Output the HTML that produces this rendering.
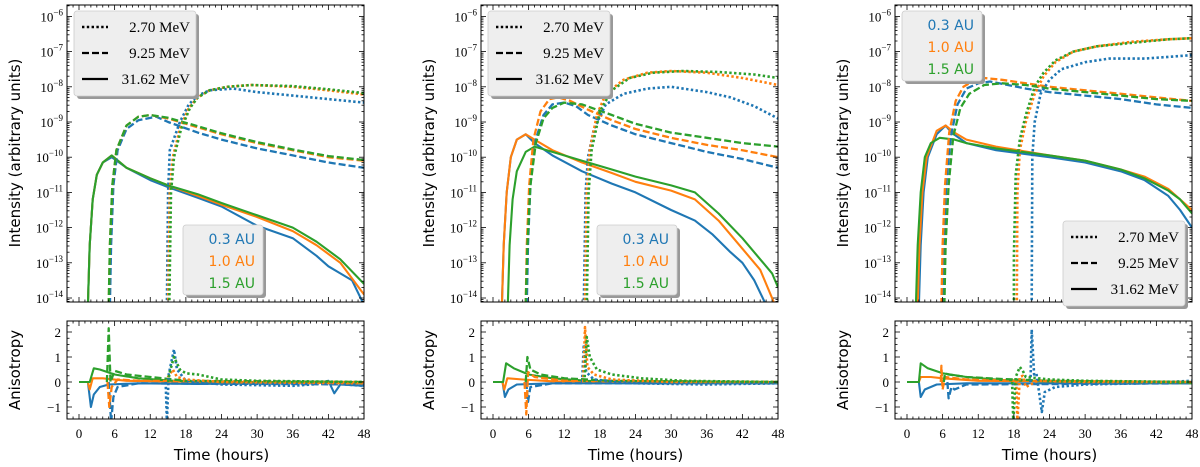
<!DOCTYPE html>
<html><head><meta charset="utf-8"><style>
body{margin:0;background:#fff;}
svg{display:block;}
.tk{font-family:"Liberation Serif",serif;font-size:13px;fill:#000;}
.lab{font-family:"DejaVu Sans","Liberation Sans",sans-serif;font-size:15px;fill:#000;}
</style></head><body>
<svg id="fig" width="1200" height="467" viewBox="0 0 1200 467" xmlns="http://www.w3.org/2000/svg"></svg>
<script>
// ---- data: [hour, log10 intensity] ----
const P1_SOLID_B=[[1.5,-14.2],[1.8,-12.5],[2.3,-11.2],[3,-10.5],[4,-10.15],[5.5,-10.0],[8,-10.3],[12,-10.65],[15,-10.85],[20,-11.15],[24,-11.4],[30,-11.95],[36,-12.3],[40,-12.8],[42,-13.1],[44,-13.3],[46,-13.5],[48,-14.2]];
const P1_SOLID_O=[[1.5,-14.2],[1.8,-12.5],[2.3,-11.2],[3,-10.5],[4,-10.15],[5.5,-9.95],[8,-10.3],[12,-10.6],[15,-10.8],[20,-11.1],[24,-11.35],[30,-11.7],[36,-12.1],[40,-12.5],[44,-13.0],[48,-13.9]];
const P1_SOLID_G=[[1.5,-14.2],[1.8,-12.5],[2.3,-11.2],[3,-10.5],[4,-10.15],[5.5,-9.95],[8,-10.3],[12,-10.6],[15,-10.8],[20,-11.05],[24,-11.3],[30,-11.65],[36,-12.0],[40,-12.4],[44,-12.9],[48,-13.6]];
const P1_DASH_B=[[5.2,-14.2],[5.4,-12.5],[5.8,-10.8],[6.5,-9.8],[8,-9.2],[10,-8.95],[13,-8.85],[15,-9.0],[20,-9.3],[24,-9.5],[30,-9.75],[36,-9.95],[42,-10.15],[48,-10.3]];
const P1_DASH_O=[[5,-14.2],[5.2,-12.5],[5.6,-10.8],[6.3,-9.8],[8,-9.1],[10,-8.85],[12,-8.8],[15,-8.9],[20,-9.15],[24,-9.35],[30,-9.6],[36,-9.8],[42,-10.0],[48,-10.1]];
const P1_DASH_G=[[5,-14.2],[5.2,-12.5],[5.6,-10.8],[6.3,-9.8],[8,-9.1],[10,-8.85],[12,-8.8],[15,-8.88],[20,-9.12],[24,-9.32],[30,-9.57],[36,-9.78],[42,-9.97],[48,-10.08]];
const P1_DOT_B=[[14.8,-14.2],[15,-11],[15.3,-9.8],[17,-9.0],[18.5,-8.5],[20,-8.25],[22,-8.1],[26,-8.05],[30,-8.15],[36,-8.25],[42,-8.35],[48,-8.45]];
const P1_DOT_O=[[15,-14.2],[15.3,-11],[15.8,-10],[17,-9.2],[18.5,-8.6],[20,-8.3],[22,-8.1],[25,-8.0],[29,-7.95],[36,-8.0],[42,-8.1],[48,-8.22]];
const P1_DOT_G=[[15.2,-14.2],[15.5,-11],[16,-10],[17.2,-9.2],[18.7,-8.6],[20,-8.3],[22,-8.1],[25,-8.0],[29,-7.95],[36,-7.98],[42,-8.07],[48,-8.18]];
const P2_SOLID_B=[[1.5,-14.2],[1.8,-12.5],[2.3,-11],[3,-10],[4,-9.5],[5.5,-9.35],[7,-9.6],[10,-9.95],[15,-10.4],[20,-10.75],[24,-11.0],[30,-11.5],[34,-11.8],[37,-12.2],[40,-12.7],[42,-13.0],[44,-13.5],[46,-14.2]];
const P2_SOLID_O=[[1.5,-14.2],[1.8,-12.5],[2.3,-11],[3,-10],[4,-9.5],[5.5,-9.35],[7,-9.5],[10,-9.8],[15,-10.15],[20,-10.45],[24,-10.7],[30,-10.95],[34,-11.2],[38,-11.8],[42,-12.6],[45,-13.2],[47.5,-14.2]];
const P2_SOLID_G=[[2.5,-14.2],[2.8,-12.5],[3.3,-11.2],[4,-10.4],[5.5,-9.85],[7,-9.7],[10,-9.85],[15,-10.1],[20,-10.35],[24,-10.55],[30,-10.8],[34,-11.0],[38,-11.6],[42,-12.3],[45,-12.9],[47,-13.3],[48,-13.7]];
const P2_DASH_B=[[5.7,-14.2],[5.9,-12.5],[6.3,-10.8],[7,-9.6],[8.5,-8.8],[10,-8.5],[12,-8.45],[14,-8.55],[16,-8.8],[20,-9.1],[24,-9.35],[30,-9.6],[36,-9.85],[42,-10.05],[48,-10.3]];
const P2_DASH_O=[[5.5,-14.2],[5.7,-12.5],[6.1,-10.8],[6.8,-9.5],[8,-8.7],[9.5,-8.35],[11,-8.3],[13,-8.4],[16,-8.65],[20,-8.95],[24,-9.2],[30,-9.45],[36,-9.65],[42,-9.8],[48,-10.0]];
const P2_DASH_G=[[5.5,-14.2],[5.8,-12.5],[6.3,-10.8],[7.2,-9.6],[8.5,-8.9],[10,-8.6],[12,-8.45],[15,-8.5],[20,-8.8],[24,-9.05],[30,-9.3],[36,-9.45],[42,-9.6],[48,-9.7]];
const P2_DOT_B=[[15.3,-14.2],[15.6,-11],[16,-10],[17,-9.2],[19,-8.5],[22,-8.2],[26,-8.05],[30,-8.0],[36,-8.15],[40,-8.3],[44,-8.55],[48,-8.9]];
const P2_DOT_O=[[15.5,-14.2],[15.8,-11],[16.3,-9.8],[17.5,-8.8],[19,-8.2],[22,-7.8],[26,-7.6],[30,-7.55],[36,-7.6],[42,-7.75],[48,-7.95]];
const P2_DOT_G=[[15.8,-14.2],[16.1,-11],[16.6,-9.8],[18,-8.7],[20,-8.1],[23,-7.75],[27,-7.6],[32,-7.55],[38,-7.58],[44,-7.65],[48,-7.75]];
const P3_SOLID_B=[[2,-14.2],[2.3,-12.5],[2.8,-11],[3.5,-10],[5,-9.35],[6.5,-9.1],[7.5,-9.3],[10,-9.6],[15,-9.8],[24,-10.0],[30,-10.15],[36,-10.4],[40,-10.65],[44,-11.1],[46,-11.5],[48,-12.0]];
const P3_SOLID_O=[[1.8,-14.2],[2.1,-12.5],[2.6,-11],[3.3,-10],[5,-9.25],[6.5,-9.1],[8,-9.3],[10,-9.5],[15,-9.7],[24,-9.95],[30,-10.1],[36,-10.35],[40,-10.55],[44,-10.9],[46,-11.2],[48,-11.5]];
const P3_SOLID_G=[[1.5,-14.2],[1.8,-12.5],[2.3,-11],[3,-10],[4,-9.6],[5.5,-9.45],[8,-9.5],[10,-9.6],[15,-9.75],[24,-9.95],[30,-10.1],[36,-10.35],[40,-10.6],[44,-10.95],[46,-11.2],[48,-11.6]];
const P3_DASH_B=[[6,-14.2],[6.2,-12.5],[6.6,-10.8],[7.4,-9.4],[8.5,-8.5],[10,-8.05],[12,-7.9],[14,-7.85],[17,-7.95],[20,-8.05],[24,-8.15],[30,-8.25],[36,-8.35],[42,-8.5],[48,-8.6]];
const P3_DASH_O=[[5.8,-14.2],[6,-12.5],[6.4,-10.8],[7.1,-9.3],[8.2,-8.4],[9.5,-8.0],[11,-7.85],[13,-7.75],[16,-7.8],[20,-7.9],[24,-8.0],[30,-8.1],[36,-8.2],[42,-8.3],[48,-8.4]];
const P3_DASH_G=[[6.3,-14.2],[6.5,-12.5],[7,-10.8],[7.8,-9.4],[9,-8.6],[10.5,-8.2],[13,-7.95],[16,-7.9],[20,-7.95],[24,-8.05],[30,-8.15],[36,-8.25],[42,-8.35],[48,-8.4]];
const P3_DOT_B=[[21,-14.2],[21.1,-10],[21.5,-9.0],[22.5,-8.2],[24,-7.8],[26,-7.5],[30,-7.3],[34,-7.2],[40,-7.2],[44,-7.15],[48,-7.1]];
const P3_DOT_O=[[18.5,-14.2],[18.6,-11],[19,-9.8],[20,-9.0],[21.5,-8.2],[23,-7.7],[25,-7.3],[28,-7.0],[32,-6.85],[38,-6.72],[44,-6.65],[48,-6.62]];
const P3_DOT_G=[[18,-14.2],[18,-12.8],[18.3,-10.5],[19,-9.5],[20,-8.8],[21.5,-8.0],[23,-7.6],[25,-7.25],[28,-7.0],[32,-6.85],[38,-6.75],[44,-6.65],[48,-6.62]];
// ---- anisotropy: [hour, value] ----
const A1_SOLID_B=[[0,0],[1.5,0],[2,-1.0],[2.5,-0.5],[3.5,-0.2],[5,-0.1],[10,-0.05],[20,-0.08],[30,-0.05],[40,-0.05],[42,0.05],[43,-0.45],[44,-0.1],[48,-0.15]];
const A1_SOLID_O=[[0,0],[1.5,0],[1.8,-0.3],[2.3,0.15],[4,0.15],[8,0.05],[20,0],[48,-0.05]];
const A1_SOLID_G=[[0,0],[1.8,0],[2.5,0.55],[3.5,0.5],[6,0.3],[10,0.15],[16,0.05],[24,0],[48,0]];
const A1_DASH_B=[[5,0],[5.4,-1.6],[5.8,-0.6],[6.5,-0.2],[10,-0.05],[48,-0.1]];
const A1_DASH_O=[[4.8,0],[5.1,-1.0],[5.5,-0.2],[6.5,0.1],[10,0.05],[48,0]];
const A1_DASH_G=[[4.7,0],[5,2.15],[5.3,0],[6,0.45],[8,0.3],[12,0.2],[18,0.05],[48,0]];
const A1_DOT_B=[[14.6,0],[14.8,-1.6],[15.1,0.3],[16,1.3],[16.5,0.5],[18,0.05],[24,-0.1],[36,-0.15],[42,-0.05],[48,-0.15]];
const A1_DOT_O=[[14.8,0],[15,0.2],[15.8,0.5],[16.5,0.2],[18,0.1],[24,0],[48,-0.05]];
const A1_DOT_G=[[15,0],[15.3,0.4],[16,1.0],[17,0.5],[18,0.35],[20,0.3],[24,0.1],[30,0.05],[48,0]];
const A2_SOLID_B=[[0,0],[1.6,0],[2,-0.6],[2.6,-0.3],[4,-0.1],[10,-0.05],[30,-0.05],[48,-0.05]];
const A2_SOLID_O=[[0,0],[1.6,0],[1.9,-0.3],[2.4,0.15],[5,0.1],[10,0.03],[48,0]];
const A2_SOLID_G=[[0,0],[1.7,0],[2.2,0.75],[3.5,0.55],[6,0.3],[10,0.15],[16,0.05],[48,0]];
const A2_DASH_B=[[5.6,0],[5.9,-0.8],[6.3,-0.2],[10,-0.05],[48,-0.05]];
const A2_DASH_O=[[5.3,0],[5.6,-1.3],[5.9,0.4],[7,0.2],[12,0.05],[48,0]];
const A2_DASH_G=[[5.5,0],[5.8,1.0],[6.3,0.5],[8,0.3],[12,0.15],[20,0.05],[48,0]];
const A2_DOT_B=[[15,0],[15.3,1.5],[15.7,0.4],[17,0.1],[24,-0.05],[36,-0.1],[48,-0.05]];
const A2_DOT_O=[[15.2,0],[15.5,2.2],[15.9,0.6],[17,0.3],[20,0.1],[30,0],[48,0]];
const A2_DOT_G=[[15.4,0],[15.8,1.8],[16.3,1.0],[17.5,0.5],[20,0.3],[25,0.15],[32,0.05],[48,0]];
const A3_SOLID_B=[[0,0],[2,0],[2.3,-0.6],[3,-0.3],[5,-0.1],[10,-0.05],[48,-0.05]];
const A3_SOLID_O=[[0,0],[2,0],[2.3,0.2],[4,0.2],[6,0.15],[12,0.05],[48,0]];
const A3_SOLID_G=[[0,0],[2,0],[2.3,0.75],[3.5,0.55],[6,0.35],[10,0.2],[16,0.08],[24,0.02],[48,-0.05]];
const A3_DASH_B=[[6.8,0],[7,-0.65],[7.5,-0.2],[8,-0.3],[10,-0.1],[48,-0.05]];
const A3_DASH_O=[[5.7,0],[5.8,0.65],[6,-0.3],[6.4,0.2],[10,0.1],[20,0.05],[48,0]];
const A3_DASH_G=[[6.2,0],[6.4,0.35],[7,0.3],[10,0.2],[16,0.12],[24,0.05],[48,0]];
const A3_DOT_B=[[20.8,0],[21,2.1],[21.4,0.3],[21.8,0.35],[22.3,-0.5],[22.7,-1.2],[23.2,-0.4],[25,-0.2],[30,-0.1],[40,-0.05],[48,0.05]];
const A3_DOT_O=[[18.4,0],[18.6,-1.6],[19,0.2],[19.5,0.25],[20,-0.2],[22,0.05],[30,0],[48,0]];
const A3_DOT_G=[[17.7,0],[17.9,-1.6],[18.3,0.2],[19,0.6],[19.5,0.45],[20,0.2],[24,0.1],[30,0.05],[48,0]];

const TOP_SERIES=[
 [P1_SOLID_B,P1_SOLID_O,P1_SOLID_G,P1_DASH_B,P1_DASH_O,P1_DASH_G,P1_DOT_B,P1_DOT_O,P1_DOT_G],
 [P2_SOLID_B,P2_SOLID_O,P2_SOLID_G,P2_DASH_B,P2_DASH_O,P2_DASH_G,P2_DOT_B,P2_DOT_O,P2_DOT_G],
 [P3_SOLID_B,P3_SOLID_O,P3_SOLID_G,P3_DASH_B,P3_DASH_O,P3_DASH_G,P3_DOT_B,P3_DOT_O,P3_DOT_G]];
const ANI_SERIES=[
 [A1_SOLID_B,A1_SOLID_O,A1_SOLID_G,A1_DASH_B,A1_DASH_O,A1_DASH_G,A1_DOT_B,A1_DOT_O,A1_DOT_G],
 [A2_SOLID_B,A2_SOLID_O,A2_SOLID_G,A2_DASH_B,A2_DASH_O,A2_DASH_G,A2_DOT_B,A2_DOT_O,A2_DOT_G],
 [A3_SOLID_B,A3_SOLID_O,A3_SOLID_G,A3_DASH_B,A3_DASH_O,A3_DASH_G,A3_DOT_B,A3_DOT_O,A3_DOT_G]];
const X_TICKS=[0,6,12,18,24,30,36,42,48];
const LOG_TICKS=[-14,-13,-12,-11,-10,-9,-8,-7,-6];
const ANI_TICKS=[-1,0,1,2];
const DIST_LABELS=['0.3 AU','1.0 AU','1.5 AU'];
const ENERGY_LABELS=['2.70 MeV','9.25 MeV','31.62 MeV'];

const NS='http://www.w3.org/2000/svg';
const svg=document.getElementById('fig');
const COLORS=['#1f77b4','#ff7f0e','#2ca02c'];
const DASHES=['','7,3','2.4,2.4'];
const WIDTHS=[2.1,2.3,2.6];
const PANEL_X=[67,481,895], PW=297;
const TOP_Y0=5, TOP_Y1=302, BOT_Y0=321, BOT_Y1=419;
function mk(tag,attrs,parent){const e=document.createElementNS(NS,tag);for(const k in attrs)e.setAttribute(k,attrs[k]);(parent||svg).appendChild(e);return e;}
function xs(p,h){return PANEL_X[p]+12+h*285/48;}
function ylog(v){return 298-(v+14)*35.2;}
function yani(a){return 382-25*a;}
const names=['solid','dashed','dotted'];
const dn=['blue','orange','green'];

for(let p=0;p<3;p++){
  const x0=PANEL_X[p],x1=x0+PW;
  const cp=mk('clipPath',{id:'ct'+p});mk('rect',{x:x0,y:TOP_Y0,width:PW,height:TOP_Y1-TOP_Y0},cp);
  const cb=mk('clipPath',{id:'cb'+p});mk('rect',{x:x0,y:BOT_Y0,width:PW,height:BOT_Y1-BOT_Y0},cb);
  const gt=mk('g',{'clip-path':'url(#ct'+p+')'});
  
  
  const gb=mk('g',{'clip-path':'url(#cb'+p+')'});
  
  
  for(let s=0;s<9;s++){
    const st=Math.floor(s/3), c=s%3;
    const d=TOP_SERIES[p][s].map((q,i)=>(i?'L':'M')+xs(p,q[0]).toFixed(1)+','+ylog(q[1]).toFixed(1)).join('');
    const pa=mk('path',{d:d,fill:'none',stroke:COLORS[c],'stroke-width':WIDTHS[st],'stroke-dasharray':DASHES[st],'stroke-linejoin':'round'},gt);
    
    
    const d2=ANI_SERIES[p][s].map((q,i)=>(i?'L':'M')+xs(p,q[0]).toFixed(1)+','+yani(q[1]).toFixed(1)).join('');
    const pb=mk('path',{d:d2,fill:'none',stroke:COLORS[c],'stroke-width':WIDTHS[st],'stroke-dasharray':DASHES[st],'stroke-linejoin':'round'},gb);
    
    
  }
  const f1=mk('rect',{x:x0,y:TOP_Y0,width:PW,height:TOP_Y1-TOP_Y0,fill:'none',stroke:'#000','stroke-width':1});
  
  
  const f2=mk('rect',{x:x0,y:BOT_Y0,width:PW,height:BOT_Y1-BOT_Y0,fill:'none',stroke:'#000','stroke-width':1});
  
  
  for(let h=-2;h<=48;h++){
    const x=xs(p,h); if(x<x0)continue;
    const L=(h%6===0)?5:2.5;
    for(const [ya,dir] of [[TOP_Y1,-1],[TOP_Y0,1],[BOT_Y1,-1],[BOT_Y0,1]])
      mk('line',{x1:x,x2:x,y1:ya,y2:ya+dir*L,stroke:'#000','stroke-width':0.8});
  }
  X_TICKS.forEach(h=>{const t=mk('text',{x:xs(p,h),y:438,'text-anchor':'middle',class:'tk'});t.textContent=h;
    });
  const xl=mk('text',{x:xs(p,24),y:460,'text-anchor':'middle',class:'lab'});xl.textContent='Time (hours)';
  
  for(let dcd=-15;dcd<=-6;dcd++){
    for(let m=1;m<10;m++){
      const v=dcd+Math.log10(m); const y=ylog(v); if(y<TOP_Y0||y>TOP_Y1)continue;
      const L=m===1?5:2.5;
      mk('line',{x1:x0,x2:x0+L,y1:y,y2:y,stroke:'#000','stroke-width':0.8});
      mk('line',{x1:x1,x2:x1-L,y1:y,y2:y,stroke:'#000','stroke-width':0.8});
    }
  }
  LOG_TICKS.forEach(v=>{const t=mk('text',{x:x0-4,y:ylog(v)+5,'text-anchor':'end',class:'tk'});
    
    const a=mk('tspan',{},t);a.textContent='10';const b=mk('tspan',{dy:-6,'font-size':'9px'},t);b.textContent='\u2212'+(-v);});
  for(let a=-1.5;a<=2.5;a+=0.25){const y=yani(a);if(y<BOT_Y0||y>BOT_Y1)continue;const L=(a%1===0)?5:2.5;
    mk('line',{x1:x0,x2:x0+L,y1:y,y2:y,stroke:'#000','stroke-width':0.8});mk('line',{x1:x1,x2:x1-L,y1:y,y2:y,stroke:'#000','stroke-width':0.8});}
  ANI_TICKS.forEach(a=>{const t=mk('text',{x:x0-6,y:yani(a)+5,'text-anchor':'end',class:'tk'});t.textContent=(a<0?'\u2212':'')+Math.abs(a);
    });
  const yl=mk('text',{x:0,y:0,'text-anchor':'middle',class:'lab',transform:`translate(${x0-47},153) rotate(-90)`});yl.textContent='Intensity (arbitrary units)';
  
  const al=mk('text',{x:0,y:0,'text-anchor':'middle',class:'lab',transform:`translate(${x0-47},370) rotate(-90)`});al.textContent='Anisotropy';
  
}
function box(x,y,w,h){mk('rect',{x:x+3,y:y+3,width:w,height:h,rx:3,fill:'#999'});mk('rect',{x:x,y:y,width:w,height:h,rx:3,fill:'#eeeeee',stroke:'#ccc','stroke-width':0.8});}
function energyLegend(x,y){
  box(x,y,122,85);
  const g=mk('g',{});
  for(let i=0;i<3;i++){const ly=y+16+i*26;const st=2-i;
    mk('line',{x1:x+8,x2:x+34,y1:ly,y2:ly,stroke:'#000','stroke-width':st==2?2.6:2.2,'stroke-dasharray':DASHES[st]},g);
    const t=mk('text',{x:x+116,y:ly+5,'text-anchor':'end','font-family':'Liberation Serif,serif','font-size':'15px'},g);t.textContent=ENERGY_LABELS[i];
    }
}
function distLegend(x,y){
  box(x,y,80,70);
  const g=mk('g',{});
  for(let i=0;i<3;i++){const t=mk('text',{x:x+72,y:y+19+i*22,'text-anchor':'end','font-family':'DejaVu Sans,Liberation Sans,sans-serif','font-size':'14px',fill:COLORS[i]},g);t.textContent=DIST_LABELS[i];
    }
}
energyLegend(74,11);distLegend(183,225);
energyLegend(488,11);distLegend(597,225);
distLegend(902,11);energyLegend(1063,221);
</script>
</body></html>
